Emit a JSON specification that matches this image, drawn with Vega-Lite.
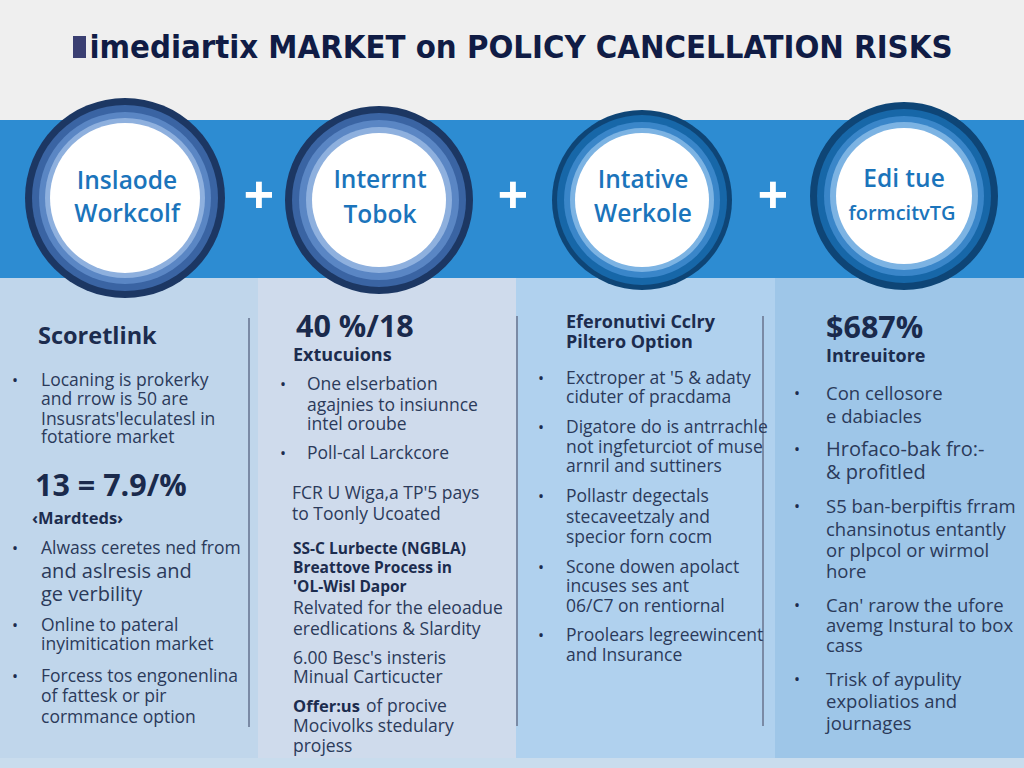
{
  "$schema": "https://vega.github.io/schema/vega-lite/v6.json",
  "autosize": {"type": "fit", "contains": "padding"},
  "width": 1024,
  "height": 768,
  "padding": 0,
  "background": "#efefef",
  "config": {"view": {"stroke": null}, "font": "Open Sans"},
  "resolve": {"scale": {"color": "independent", "size": "independent"}},
  "datasets": {
    "panels": [
      {"x": 0, "x2": 1024, "y": 0, "y2": 120, "zone": "top"},
      {"x": 0, "x2": 1024, "y": 120, "y2": 278, "zone": "band"},
      {"x": 0, "x2": 258, "y": 278, "y2": 768, "zone": "col1"},
      {"x": 258, "x2": 516, "y": 278, "y2": 768, "zone": "col2"},
      {"x": 516, "x2": 775, "y": 278, "y2": 768, "zone": "col3"},
      {"x": 775, "x2": 1024, "y": 278, "y2": 768, "zone": "col4"},
      {"x": 0, "x2": 1024, "y": 758, "y2": 768, "zone": "foot"},
      {"x": 73, "x2": 86, "y": 36, "y2": 58, "zone": "icon"}
    ],
    "rules": [
      {"x": 249, "y": 318, "y2": 727},
      {"x": 517, "y": 316, "y2": 726},
      {"x": 763, "y": 316, "y2": 726}
    ],
    "rings": [
      {"x": 125, "y": 198, "ring": "a0"},
      {"x": 125, "y": 198, "ring": "a1"},
      {"x": 125, "y": 198, "ring": "a2"},
      {"x": 125, "y": 198, "ring": "a3"},
      {"x": 125, "y": 198, "ring": "a4"},
      {"x": 379, "y": 200, "ring": "b0"},
      {"x": 379, "y": 200, "ring": "b1"},
      {"x": 379, "y": 200, "ring": "b2"},
      {"x": 379, "y": 200, "ring": "b3"},
      {"x": 379, "y": 200, "ring": "b4"},
      {"x": 642, "y": 200, "ring": "c0"},
      {"x": 642, "y": 200, "ring": "c1"},
      {"x": 642, "y": 200, "ring": "c2"},
      {"x": 642, "y": 200, "ring": "c3"},
      {"x": 642, "y": 200, "ring": "c4"},
      {"x": 904, "y": 196, "ring": "d0"},
      {"x": 904, "y": 196, "ring": "d1"},
      {"x": 904, "y": 196, "ring": "d2"},
      {"x": 904, "y": 196, "ring": "d3"},
      {"x": 904, "y": 196, "ring": "d4"}
    ],
    "texts": [
      {"x": 521, "y": 48, "t": "imediartix MARKET on POLICY CANCELLATION RISKS", "k": "title"},
      {"x": 127, "y": 182, "t": "Inslaode", "k": "circ"},
      {"x": 127, "y": 215, "t": "Workcolf", "k": "circ"},
      {"x": 380, "y": 181, "t": "Interrnt", "k": "circ"},
      {"x": 380, "y": 216, "t": "Tobok", "k": "circ"},
      {"x": 643, "y": 181, "t": "Intative", "k": "circ"},
      {"x": 643, "y": 215, "t": "Werkole", "k": "circ"},
      {"x": 904, "y": 180, "t": "Edi tue", "k": "circ"},
      {"x": 902, "y": 214, "t": "formcitvTG", "k": "circs"},
      {"x": 259, "y": 198, "t": "+", "k": "plus"},
      {"x": 513, "y": 198, "t": "+", "k": "plus"},
      {"x": 773, "y": 198, "t": "+", "k": "plus"},

      {"x": 38, "y": 337, "t": "Scoretlink", "k": "head"},
      {"x": 15, "y": 381, "t": "•", "k": "bullet"},
      {"x": 41, "y": 381, "t": "Locaning is prokerky", "k": "body"},
      {"x": 41, "y": 400, "t": "and rrow is 50 are", "k": "body"},
      {"x": 41, "y": 420, "t": "Insusrats'leculatesl in", "k": "body"},
      {"x": 41, "y": 438, "t": "fotatiore market", "k": "body"},
      {"x": 35, "y": 487, "t": "13 = 7.9/%", "k": "big"},
      {"x": 32, "y": 519, "t": "‹Mardteds›", "k": "subS"},
      {"x": 15, "y": 549, "t": "•", "k": "bullet"},
      {"x": 41, "y": 549, "t": "Alwass ceretes ned from", "k": "body"},
      {"x": 41, "y": 572, "t": "and aslresis and", "k": "bodyL"},
      {"x": 41, "y": 595, "t": "ge verbility", "k": "bodyL"},
      {"x": 15, "y": 626, "t": "•", "k": "bullet"},
      {"x": 41, "y": 626, "t": "Online to pateral", "k": "body"},
      {"x": 41, "y": 645, "t": "inyimitication market", "k": "body"},
      {"x": 15, "y": 677, "t": "•", "k": "bullet"},
      {"x": 41, "y": 677, "t": "Forcess tos engonenlina", "k": "body"},
      {"x": 41, "y": 697, "t": "of fattesk or pir", "k": "body"},
      {"x": 41, "y": 718, "t": "cormmance option", "k": "body"},

      {"x": 296, "y": 328, "t": "40 %/18", "k": "big"},
      {"x": 293, "y": 356, "t": "Extucuions", "k": "sub"},
      {"x": 283, "y": 385, "t": "•", "k": "bullet"},
      {"x": 307, "y": 385, "t": "One elserbation", "k": "body"},
      {"x": 307, "y": 406, "t": "agajnies to insiunnce", "k": "body"},
      {"x": 307, "y": 425, "t": "intel oroube", "k": "body"},
      {"x": 283, "y": 454, "t": "•", "k": "bullet"},
      {"x": 307, "y": 454, "t": "Poll-cal Larckcore", "k": "body"},
      {"x": 292, "y": 494, "t": "FCR U Wiga,a TP'5 pays", "k": "body"},
      {"x": 292, "y": 515, "t": "to Toonly Ucoated", "k": "body"},
      {"x": 293, "y": 549, "t": "SS-C Lurbecte (NGBLA)", "k": "subT"},
      {"x": 293, "y": 568, "t": "Breattove Process in", "k": "subT"},
      {"x": 293, "y": 587, "t": "'OL-Wisl Dapor", "k": "subT"},
      {"x": 293, "y": 609, "t": "Relvated for the eleoadue", "k": "body"},
      {"x": 293, "y": 630, "t": "eredlications & Slardity", "k": "body"},
      {"x": 293, "y": 659, "t": "6.00 Besc's insteris", "k": "body"},
      {"x": 293, "y": 678, "t": "Minual Carticucter", "k": "body"},
      {"x": 293, "y": 707, "t": "Offer:us", "k": "subS"},
      {"x": 366, "y": 707, "t": "of procive", "k": "body"},
      {"x": 293, "y": 727, "t": "Mocivolks stedulary", "k": "body"},
      {"x": 293, "y": 747, "t": "projess", "k": "body"},

      {"x": 566, "y": 323, "t": "Eferonutivi Cclry", "k": "sub"},
      {"x": 566, "y": 343, "t": "Piltero Option", "k": "sub"},
      {"x": 541, "y": 379, "t": "•", "k": "bullet"},
      {"x": 566, "y": 379, "t": "Exctroper at '5 & adaty", "k": "body"},
      {"x": 566, "y": 398, "t": "ciduter of pracdama", "k": "body"},
      {"x": 541, "y": 428, "t": "•", "k": "bullet"},
      {"x": 566, "y": 428, "t": "Digatore do is antrrachle", "k": "body"},
      {"x": 566, "y": 448, "t": "not ingfeturciot of muse", "k": "body"},
      {"x": 566, "y": 467, "t": "arnril and suttiners", "k": "body"},
      {"x": 541, "y": 497, "t": "•", "k": "bullet"},
      {"x": 566, "y": 497, "t": "Pollastr degectals", "k": "body"},
      {"x": 566, "y": 518, "t": "stecaveetzaly and", "k": "body"},
      {"x": 566, "y": 538, "t": "specior forn cocm", "k": "body"},
      {"x": 541, "y": 568, "t": "•", "k": "bullet"},
      {"x": 566, "y": 568, "t": "Scone dowen apolact", "k": "body"},
      {"x": 566, "y": 587, "t": "incuses ses ant", "k": "body"},
      {"x": 566, "y": 607, "t": "06/C7 on rentiornal", "k": "body"},
      {"x": 541, "y": 636, "t": "•", "k": "bullet"},
      {"x": 566, "y": 636, "t": "Proolears legreewincent", "k": "body"},
      {"x": 566, "y": 656, "t": "and Insurance", "k": "body"},

      {"x": 826, "y": 329, "t": "$687%", "k": "big"},
      {"x": 826, "y": 357, "t": "Intreuitore", "k": "sub"},
      {"x": 797, "y": 394, "t": "•", "k": "bullet"},
      {"x": 826, "y": 394, "t": "Con cellosore", "k": "body4"},
      {"x": 826, "y": 417, "t": "e dabiacles", "k": "body4"},
      {"x": 797, "y": 450, "t": "•", "k": "bullet"},
      {"x": 826, "y": 450, "t": "Hrofaco-bak fro:-", "k": "bodyL"},
      {"x": 826, "y": 473, "t": "& profitled", "k": "bodyL"},
      {"x": 797, "y": 507, "t": "•", "k": "bullet"},
      {"x": 826, "y": 507, "t": "S5 ban-berpiftis frram", "k": "body4"},
      {"x": 826, "y": 530, "t": "chansinotus entantly", "k": "body4"},
      {"x": 826, "y": 551, "t": "or plpcol or wirmol", "k": "body4"},
      {"x": 826, "y": 572, "t": "hore", "k": "body4"},
      {"x": 797, "y": 606, "t": "•", "k": "bullet"},
      {"x": 826, "y": 606, "t": "Can' rarow the ufore", "k": "body4"},
      {"x": 826, "y": 626, "t": "avemg Instural to box", "k": "body4"},
      {"x": 826, "y": 646, "t": "cass", "k": "body4"},
      {"x": 797, "y": 680, "t": "•", "k": "bullet"},
      {"x": 826, "y": 680, "t": "Trisk of aypulity", "k": "body4"},
      {"x": 826, "y": 702, "t": "expoliatios and", "k": "body4"},
      {"x": 826, "y": 724, "t": "journages", "k": "body4"}
    ]
  },
  "encoding": {
    "x": {"field": "x", "type": "quantitative", "scale": {"domain": [0, 1024], "nice": false, "zero": false}, "axis": null},
    "y": {"field": "y", "type": "quantitative", "scale": {"domain": [0, 768], "nice": false, "zero": false, "reverse": true}, "axis": null}
  },
  "layer": [
    {
      "data": {"name": "panels"},
      "mark": {"type": "rect"},
      "encoding": {
        "x2": {"field": "x2"},
        "y2": {"field": "y2"},
        "color": {"field": "zone", "type": "nominal", "legend": null,
          "scale": {"domain": ["top", "band", "col1", "col2", "col3", "col4", "foot", "icon"],
                    "range": ["#efefef", "#2d8cd2", "#c0d6eb", "#cfdbec", "#b0d1ee", "#9ec6e8", "#c9dced", "#3a3f72"]}}
      }
    },
    {
      "data": {"name": "rules"},
      "mark": {"type": "rule", "color": "#7a8aa5", "strokeWidth": 2},
      "encoding": {"y2": {"field": "y2"}}
    },
    {
      "data": {"name": "rings"},
      "mark": {"type": "point", "shape": "circle", "filled": true, "opacity": 1, "strokeWidth": 0},
      "encoding": {
        "color": {"field": "ring", "type": "nominal", "legend": null,
          "scale": {"domain": ["a0","a1","a2","a3","a4","b0","b1","b2","b3","b4","c0","c1","c2","c3","c4","d0","d1","d2","d3","d4"],
                    "range": ["#1c3763","#3a64a3","#5a86c4","#8eb0de","#ffffff","#1c3763","#3a64a3","#5a86c4","#8eb0de","#ffffff","#0e4576","#1767a8","#3a86c9","#7cb3e3","#ffffff","#0e4576","#1767a8","#3a86c9","#7cb3e3","#ffffff"]}},
        "size": {"field": "ring", "type": "ordinal", "legend": null,
          "scale": {"type": "ordinal", "domain": ["a0","a1","a2","a3","a4","b0","b1","b2","b3","b4","c0","c1","c2","c3","c4","d0","d1","d2","d3","d4"],
                    "range": [40000,34596,29584,25600,22500,35344,30276,25600,21316,17956,32400,28900,24336,20736,17956,35344,30276,25600,21904,18496]}},
        "order": {"field": "ring", "type": "ordinal", "sort": "ascending"}
      }
    },
    {
      "data": {"name": "texts"},
      "transform": [{"filter": "datum.k == 'title'"}],
      "mark": {"type": "text", "font": "DejaVu Sans Condensed", "fontWeight": "bold", "fontSize": 32.6, "color": "#101c45", "align": "center", "baseline": "middle"},
      "encoding": {"text": {"field": "t"}}
    },
    {
      "data": {"name": "texts"},
      "transform": [{"filter": "datum.k == 'circ'"}],
      "mark": {"type": "text", "fontWeight": 600, "fontSize": 24.5, "color": "#1b74bb", "align": "center", "baseline": "middle"},
      "encoding": {"text": {"field": "t"}}
    },
    {
      "data": {"name": "texts"},
      "transform": [{"filter": "datum.k == 'circs'"}],
      "mark": {"type": "text", "fontWeight": 600, "fontSize": 20, "color": "#1b74bb", "align": "center", "baseline": "middle"},
      "encoding": {"text": {"field": "t"}}
    },
    {
      "data": {"name": "texts"},
      "transform": [{"filter": "datum.k == 'plus'"}],
      "mark": {"type": "text", "fontWeight": "bold", "fontSize": 54, "color": "#ffffff", "align": "center", "baseline": "middle"},
      "encoding": {"text": {"field": "t"}}
    },
    {
      "data": {"name": "texts"},
      "transform": [{"filter": "datum.k == 'head'"}],
      "mark": {"type": "text", "fontWeight": "bold", "fontSize": 23.5, "color": "#1c2c4e", "align": "left", "baseline": "middle"},
      "encoding": {"text": {"field": "t"}}
    },
    {
      "data": {"name": "texts"},
      "transform": [{"filter": "datum.k == 'big'"}],
      "mark": {"type": "text", "fontWeight": "bold", "fontSize": 30.5, "color": "#1a2a4c", "align": "left", "baseline": "middle"},
      "encoding": {"text": {"field": "t"}}
    },
    {
      "data": {"name": "texts"},
      "transform": [{"filter": "datum.k == 'sub'"}],
      "mark": {"type": "text", "fontWeight": "bold", "fontSize": 18, "color": "#1c2c4e", "align": "left", "baseline": "middle"},
      "encoding": {"text": {"field": "t"}}
    },
    {
      "data": {"name": "texts"},
      "transform": [{"filter": "datum.k == 'subS'"}],
      "mark": {"type": "text", "fontWeight": "bold", "fontSize": 16.5, "color": "#1c2c4e", "align": "left", "baseline": "middle"},
      "encoding": {"text": {"field": "t"}}
    },
    {
      "data": {"name": "texts"},
      "transform": [{"filter": "datum.k == 'subT'"}],
      "mark": {"type": "text", "fontWeight": "bold", "fontSize": 15.5, "color": "#1c2c4e", "align": "left", "baseline": "middle"},
      "encoding": {"text": {"field": "t"}}
    },
    {
      "data": {"name": "texts"},
      "transform": [{"filter": "datum.k == 'body'"}],
      "mark": {"type": "text", "fontSize": 17.5, "color": "#2b3a5a", "align": "left", "baseline": "middle"},
      "encoding": {"text": {"field": "t"}}
    },
    {
      "data": {"name": "texts"},
      "transform": [{"filter": "datum.k == 'body4'"}],
      "mark": {"type": "text", "fontSize": 18.5, "color": "#2b3a5a", "align": "left", "baseline": "middle"},
      "encoding": {"text": {"field": "t"}}
    },
    {
      "data": {"name": "texts"},
      "transform": [{"filter": "datum.k == 'bodyL'"}],
      "mark": {"type": "text", "fontSize": 20, "color": "#2b3a5a", "align": "left", "baseline": "middle"},
      "encoding": {"text": {"field": "t"}}
    },
    {
      "data": {"name": "texts"},
      "transform": [{"filter": "datum.k == 'bullet'"}],
      "mark": {"type": "text", "fontSize": 16, "color": "#1c2c4e", "align": "center", "baseline": "middle"},
      "encoding": {"text": {"field": "t"}}
    }
  ]
}
